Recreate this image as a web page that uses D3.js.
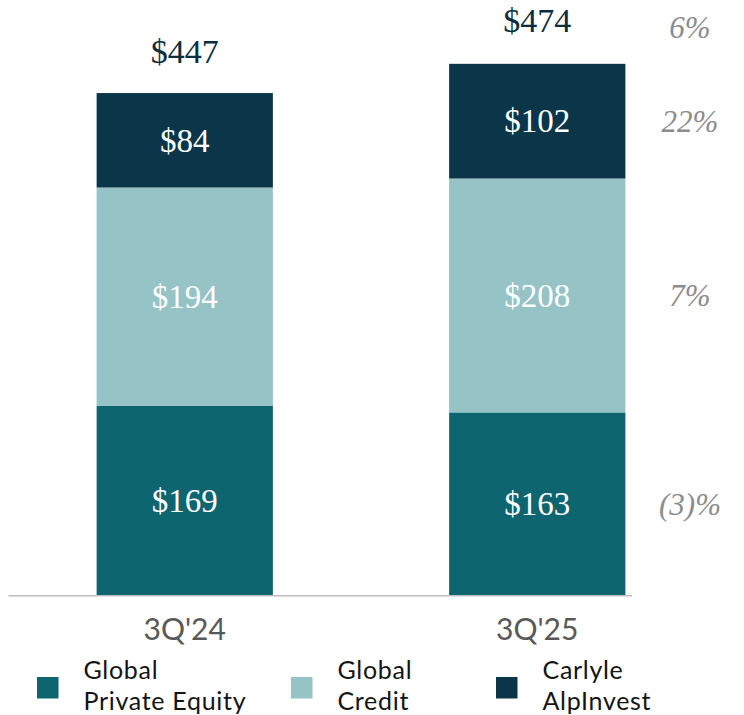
<!DOCTYPE html>
<html>
<head>
<meta charset="utf-8">
<script src="https://cdn.jsdelivr.net/npm/d3@7"></script>
<style>
  html, body { margin: 0; padding: 0; background: #ffffff; }
  svg { display: block; }
</style>
</head>
<body>
<svg id="chart" width="744" height="715"></svg>
<script>
// ---- data ----
const categories = ["3Q'24", "3Q'25"];
const seriesNames = ["Global Private Equity", "Global Credit", "Carlyle AlpInvest"];
const legendLines = [["Global", "Private Equity"], ["Global", "Credit"], ["Carlyle", "AlpInvest"]];
const privateEquity = [169, 163];
const globalCredit = [194, 208];
const alpInvest = [84, 102];
const totals = [447, 474];
const seriesChange = ["(3)%", "7%", "22%"];
const totalChange = "6%";
const colors = ["#0d6570", "#95c3c6", "#0b3548"];

// ---- layout ----
const svg = d3.select("#chart");
const baseY = 595.7;
const y = d3.scaleLinear().domain([0, 474]).range([baseY, 62.7]);
const x = d3.scaleBand().domain(categories).range([8.5, 713.5]).paddingInner(0.5).paddingOuter(0.25);
const bw = x.bandwidth();

const rows = categories.map((c, i) => ({ cat: c, pe: privateEquity[i], cr: globalCredit[i], ai: alpInvest[i] }));
const stack = d3.stack().keys(["pe", "cr", "ai"])(rows);

const serif = "'Liberation Serif', 'Times New Roman', serif";
const sans = "Lato, 'Open Sans', sans-serif";

// bars
stack.forEach((layer, k) => {
  svg.append("g").selectAll("rect").data(layer).join("rect")
    .attr("x", d => x(d.data.cat))
    .attr("y", d => y(d[1]))
    .attr("width", bw)
    .attr("height", d => y(d[0]) - y(d[1]))
    .attr("fill", colors[k]);
  svg.append("g").selectAll("text").data(layer).join("text")
    .attr("x", d => x(d.data.cat) + bw / 2)
    .attr("y", d => (y(d[0]) + y(d[1])) / 2)
    .attr("dy", "0.34em")
    .attr("text-anchor", "middle")
    .attr("font-family", serif)
    .attr("font-size", 33)
    .attr("fill", "#ffffff")
    .text(d => "$" + (d[1] - d[0]));
});

// totals
svg.append("g").selectAll("text").data(totals).join("text")
  .attr("x", (d, i) => x(categories[i]) + bw / 2)
  .attr("y", d => y(d) - 30.5)
  .attr("text-anchor", "middle")
  .attr("font-family", serif)
  .attr("font-size", 34)
  .attr("fill", "#0c2e3e")
  .text(d => "$" + d);

// axis
const axis = d3.axisBottom(x).tickSize(0).tickPadding(0);
const gx = svg.append("g").attr("transform", `translate(0,${baseY})`).call(axis);
gx.select(".domain").attr("stroke", "#bfbfbf").attr("stroke-width", 1.6)
  .attr("d", "M8.5,0H632");
gx.selectAll(".tick text")
  .attr("font-family", sans)
  .attr("font-size", 30)
  .attr("fill", "#595959")
  .attr("dy", 0)
  .attr("y", 44.5);

// change labels on the right
const lastLayer = stack.map(l => l[l.length - 1]);
svg.append("g").selectAll("text").data(seriesChange).join("text")
  .attr("x", 690)
  .attr("y", (d, k) => (y(lastLayer[k][0]) + y(lastLayer[k][1])) / 2)
  .attr("dy", "0.34em")
  .attr("text-anchor", "middle")
  .attr("font-family", serif)
  .attr("font-style", "italic")
  .attr("font-size", 31)
  .attr("fill", "#8c8c8c")
  .text(d => d);
svg.append("text")
  .attr("x", 690)
  .attr("y", y(totals[totals.length - 1]) - 25)
  .attr("text-anchor", "middle")
  .attr("font-family", serif)
  .attr("font-style", "italic")
  .attr("font-size", 31)
  .attr("fill", "#8c8c8c")
  .text(totalChange);

// legend
const legX = [37, 291, 496];
const leg = svg.append("g").selectAll("g").data(seriesNames).join("g")
  .attr("transform", (d, i) => `translate(${legX[i]},677)`);
leg.append("rect").attr("width", 21.5).attr("height", 21.5)
  .attr("fill", (d, i) => colors[i]);
leg.each(function (d, i) {
  const t = d3.select(this).append("text")
    .attr("font-family", sans).attr("font-size", 25)
    .attr("letter-spacing", "0.7px").attr("fill", "#141414");
  legendLines[i].forEach((line, j) => {
    t.append("tspan").attr("x", 46.5).attr("y", 2 + j * 30.5).text(line);
  });
});
</script>
</body>
</html>
